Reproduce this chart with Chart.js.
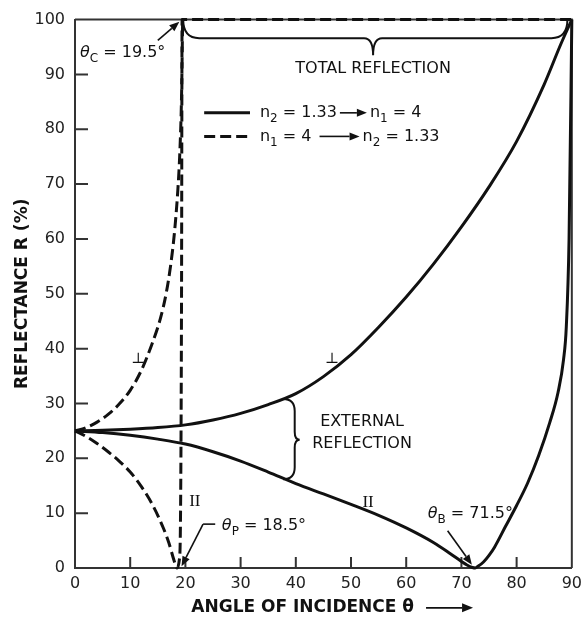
<!DOCTYPE html>
<html lang="en">
<head>
<meta charset="UTF-8">
<title>Reflectance vs Angle of Incidence</title>
<script src="https://cdn.jsdelivr.net/npm/chart.js@4"></script>
<style>
  html, body { margin: 0; padding: 0; background: #fff; }
</style>
</head>
<body>
<canvas id="reflChart" width="588" height="619"></canvas>
<script>
// axis ticks
const xTicks = [0, 10, 20, 30, 40, 50, 60, 70, 80, 90];
const yTicks = [0, 10, 20, 30, 40, 50, 60, 70, 80, 90, 100];

// solid: n2 = 1.33 -> n1 = 4 (external reflection)
const extPerpAngle = [0, 5, 10, 15, 20, 25, 30, 35, 40, 45, 50, 55, 60, 65, 70, 75, 80, 85, 88, 90];
const extPerpR     = [25, 25.1, 25.3, 25.6, 26.1, 27, 28.2, 29.8, 31.8, 34.9, 38.9, 43.9, 49.4, 55.5, 62.2, 69.5, 77.8, 88.2, 95.5, 100];
const extParAngle  = [0, 5, 10, 15, 20, 25, 30, 35, 40, 45, 50, 55, 60, 65, 68, 70, 71, 72, 72.5, 73, 74, 75, 76, 78, 80, 82, 84, 86, 87.5, 88.5, 89, 89.5, 90];
const extParR      = [25, 24.7, 24.2, 23.5, 22.6, 21.2, 19.5, 17.5, 15.4, 13.5, 11.6, 9.6, 7.3, 4.6, 2.6, 1.2, 0.55, 0.1, 0, 0.3, 1.1, 2.3, 3.8, 7.6, 11.4, 15.5, 20.5, 26.5, 32, 38, 44, 60, 100];

// dashed: n1 = 4 -> n2 = 1.33 (internal reflection)
const intPerpAngle = [0, 2, 4, 6, 8, 10, 12, 14, 15.5, 16.5, 17.3, 18, 18.6, 19, 19.3, 19.5];
const intPerpR     = [25, 25.6, 26.6, 28, 29.9, 32.4, 36, 41, 45.6, 50, 55, 61, 68.5, 76, 86, 100];
const intParAngle  = [0, 2, 4, 6, 8, 10, 12, 14, 16, 17, 18, 18.5, 18.9, 19.1, 19.3, 19.4, 90];
const intParR      = [25, 24, 22.7, 21.2, 19.5, 17.5, 14.9, 11.6, 7.3, 4.6, 1.2, 0, 1.5, 8, 50, 100, 100];

const INK = '#111';
const FAM = '"DejaVu Sans", sans-serif';
const X_TITLE = 'ANGLE OF INCIDENCE θ' + '\u00a0'.repeat(7);

function pts(a, r) {
    return a.map((v, i) => ({ x: v, y: r[i] }));
}

function arrow(ctx, x1, y1, x2, y2, len, half, lw) {
    const ang = Math.atan2(y2 - y1, x2 - x1);
    const bx = x2 - len * Math.cos(ang), by = y2 - len * Math.sin(ang);
    ctx.lineWidth = lw;
    ctx.beginPath();
    ctx.moveTo(x1, y1);
    ctx.lineTo(bx, by);
    ctx.stroke();
    ctx.beginPath();
    ctx.moveTo(x2, y2);
    ctx.lineTo(bx + half * Math.sin(ang), by - half * Math.cos(ang));
    ctx.lineTo(bx - half * Math.sin(ang), by + half * Math.cos(ang));
    ctx.closePath();
    ctx.fill();
}

// text with subscripts, italics and drawn arrows
function rich(ctx, x, y, parts, size) {
    let cx = x;
    parts.forEach(([t, s]) => {
        if (s === '>') {
            cx += 3;
            arrow(ctx, cx, y, cx + t, y, 10, 4, 1.6);
            cx += t + 3;
            return;
        }
        const sz = s === 's' ? Math.round(size * 0.72) : size;
        ctx.font = (s === 'i' ? 'italic ' : '') + sz + 'px ' + FAM;
        ctx.fillText(t, cx, s === 's' ? y + size * 0.38 : y);
        cx += ctx.measureText(t).width;
    });
}

const frameTicks = {
    id: 'frameTicks',
    beforeDatasetsDraw(chart) {
        const { ctx, chartArea: a, scales: { x, y } } = chart;
        ctx.save();
        ctx.strokeStyle = '#333';
        ctx.lineWidth = 2;
        ctx.beginPath();
        ctx.moveTo(a.left, a.top);
        ctx.lineTo(a.right, a.top);
        ctx.lineTo(a.right, a.bottom);
        xTicks.forEach(v => {
            const px = x.getPixelForValue(v);
            ctx.moveTo(px, a.bottom);
            ctx.lineTo(px, a.bottom - 11);
        });
        yTicks.forEach(v => {
            const py = y.getPixelForValue(v);
            ctx.moveTo(a.left, py);
            ctx.lineTo(a.left + 13, py);
        });
        ctx.stroke();
        ctx.restore();
    }
};

const notes = {
    id: 'notes',
    afterDatasetsDraw(chart) {
        const { ctx, scales: { x, y } } = chart;
        const X = v => x.getPixelForValue(v);
        const Y = v => y.getPixelForValue(v);
        ctx.save();
        ctx.fillStyle = INK;
        ctx.strokeStyle = INK;
        ctx.textBaseline = 'middle';
        ctx.textAlign = 'left';

        // legend
        ctx.lineWidth = 3;
        ctx.beginPath();
        ctx.moveTo(X(23.4), Y(83));
        ctx.lineTo(X(31.7), Y(83));
        ctx.stroke();
        ctx.setLineDash([11, 5]);
        ctx.beginPath();
        ctx.moveTo(X(23.4), Y(78.7));
        ctx.lineTo(X(31.7), Y(78.7));
        ctx.stroke();
        ctx.setLineDash([]);
        rich(ctx, X(33.5), Y(83), [['n', ''], ['2', 's'], [' = 1.33', ''], [27, '>'], ['n', ''], ['1', 's'], [' = 4', '']], 16);
        rich(ctx, X(33.5), Y(78.7), [['n', ''], ['1', 's'], [' = 4 ', ''], [40, '>'], ['n', ''], ['2', 's'], [' = 1.33', '']], 16);

        // critical / polarizing / Brewster angles
        rich(ctx, X(0.9), Y(93.9), [['θ', 'i'], ['C', 's'], [' = 19.5°', '']], 16);
        arrow(ctx, X(15), Y(96.2), X(18.9), Y(99.6), 10, 4, 1.6);

        rich(ctx, X(26.6), Y(7.7), [['θ', 'i'], ['P', 's'], [' = 18.5°', '']], 16);
        ctx.lineWidth = 1.6;
        ctx.beginPath();
        ctx.moveTo(X(25.4), Y(8));
        ctx.lineTo(X(23.2), Y(8));
        ctx.stroke();
        arrow(ctx, X(23.2), Y(8), X(19.3), Y(0.3), 10, 4, 1.6);

        rich(ctx, X(63.9), Y(9.9), [['θ', 'i'], ['B', 's'], [' = 71.5°', '']], 16);
        arrow(ctx, X(67.5), Y(6.8), X(71.9), Y(0.6), 10, 4, 1.6);

        // polarization marks
        ctx.font = '17px "Liberation Serif", serif';
        ctx.textAlign = 'center';
        ctx.fillText('II', X(21.7), Y(12.2));
        ctx.fillText('II', X(53.1), Y(11.9));
        ctx.font = '15px "DejaVu Serif", serif';
        ctx.fillText('⊥', X(11.4), Y(38));
        ctx.fillText('⊥', X(46.5), Y(38));

        // total reflection brace
        ctx.lineWidth = 2;
        const x1 = X(19.6), x2 = X(89.2), xc = X(54);
        const yT = Y(100), yM = Y(96.6), yP = Y(93.5);
        ctx.beginPath();
        ctx.moveTo(x1, yT);
        ctx.quadraticCurveTo(x1, yM, x1 + 16, yM);
        ctx.lineTo(xc - 9, yM);
        ctx.quadraticCurveTo(xc, yM, xc, yP);
        ctx.quadraticCurveTo(xc, yM, xc + 9, yM);
        ctx.lineTo(x2 - 16, yM);
        ctx.quadraticCurveTo(x2, yM, x2, yT);
        ctx.stroke();
        ctx.font = '16px ' + FAM;
        ctx.fillText('TOTAL REFLECTION', xc, Y(91.1));

        // external reflection brace
        const xl = X(37.7), xm = X(39.8), xt = X(40.7);
        const bT = Y(30.8), bB = Y(16.2), bC = Y(23.4);
        ctx.beginPath();
        ctx.moveTo(xl, bT);
        ctx.quadraticCurveTo(xm, bT, xm, bT + 12);
        ctx.lineTo(xm, bC - 8);
        ctx.quadraticCurveTo(xm, bC, xt, bC);
        ctx.quadraticCurveTo(xm, bC, xm, bC + 8);
        ctx.lineTo(xm, bB - 12);
        ctx.quadraticCurveTo(xm, bB, xl, bB);
        ctx.stroke();
        ctx.fillText('EXTERNAL', X(52), Y(26.7));
        ctx.fillText('REFLECTION', X(52), Y(22.7));

        // arrow after x axis title
        ctx.font = 'bold 17px ' + FAM;
        const full = ctx.measureText(X_TITLE).width;
        const tw = ctx.measureText(X_TITLE.trimEnd()).width;
        const sx = (x.left + x.right) / 2 - full / 2 + tw + 12;
        const ty = x.bottom - (17 * 1.2 / 2 + 1);
        arrow(ctx, sx, ty, sx + 47, ty, 11, 4.5, 1.8);
        ctx.restore();
    }
};

const lineBase = {
    borderColor: INK,
    borderWidth: 3,
    pointRadius: 0,
    fill: false,
    clip: false,
    cubicInterpolationMode: 'monotone'
};

new Chart(document.getElementById('reflChart'), {
    type: 'line',
    data: {
        datasets: [
            { ...lineBase, label: 'n2 = 1.33 → n1 = 4 (⊥)', data: pts(extPerpAngle, extPerpR) },
            { ...lineBase, label: 'n2 = 1.33 → n1 = 4 (II)', data: pts(extParAngle, extParR) },
            { ...lineBase, label: 'n1 = 4 → n2 = 1.33 (⊥)', data: pts(intPerpAngle, intPerpR), borderDash: [11, 5] },
            { ...lineBase, label: 'n1 = 4 → n2 = 1.33 (II)', data: pts(intParAngle, intParR), borderDash: [11, 5] }
        ]
    },
    options: {
        responsive: false,
        animation: false,
        events: [],
        layout: { padding: { top: 14, right: 16, left: 0, bottom: 0 } },
        plugins: { legend: { display: false }, tooltip: { enabled: false } },
        scales: {
            x: {
                type: 'linear',
                min: 0,
                max: 90,
                afterFit(s) { s.height = 51; },
                afterBuildTicks(s) { s.ticks = xTicks.map(v => ({ value: v })); },
                grid: { display: false, drawTicks: false },
                border: { display: true, color: '#333', width: 2 },
                ticks: { padding: 6, color: '#222', font: { family: 'DejaVu Sans', size: 16 } },
                title: {
                    display: true,
                    text: X_TITLE,
                    color: '#111',
                    padding: { top: 0, bottom: 1 },
                    font: { family: 'DejaVu Sans', size: 17, weight: 'bold' }
                }
            },
            y: {
                type: 'linear',
                min: 0,
                max: 100,
                afterFit(s) { s.width = 75; },
                afterBuildTicks(s) { s.ticks = yTicks.map(v => ({ value: v })); },
                grid: { display: false, drawTicks: false },
                border: { display: true, color: '#333', width: 2 },
                ticks: { padding: 10, color: '#222', font: { family: 'DejaVu Sans', size: 16 } },
                title: {
                    display: true,
                    text: 'REFLECTANCE R (%)',
                    color: '#111',
                    padding: { top: 12, bottom: 0 },
                    font: { family: 'DejaVu Sans', size: 17, weight: 'bold' }
                }
            }
        }
    },
    plugins: [frameTicks, notes]
});
</script>
</body>
</html>
